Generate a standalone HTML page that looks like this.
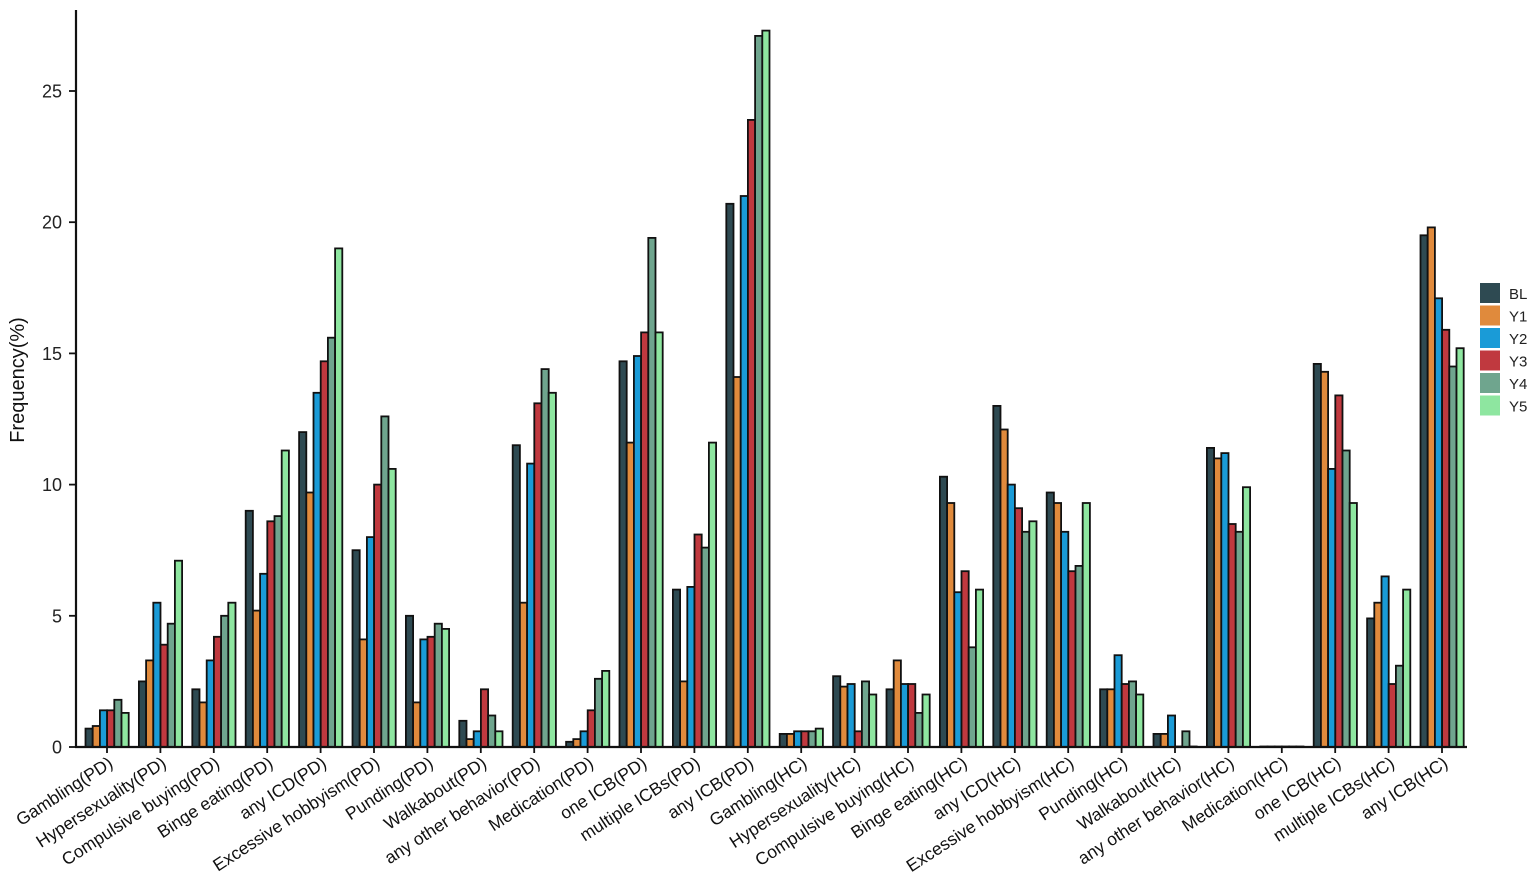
<!DOCTYPE html>
<html><head><meta charset="utf-8"><style>body{margin:0;background:#fff}svg{display:block}</style></head>
<body>
<svg id="c" width="1535" height="888" xmlns="http://www.w3.org/2000/svg" font-family="Liberation Sans, Arial, sans-serif"></svg>
<script>
const names=["Gambling(PD)","Hypersexuality(PD)","Compulsive buying(PD)","Binge eating(PD)","any ICD(PD)","Excessive hobbyism(PD)","Punding(PD)","Walkabout(PD)","any other behavior(PD)","Medication(PD)","one ICB(PD)","multiple ICBs(PD)","any ICB(PD)","Gambling(HC)","Hypersexuality(HC)","Compulsive buying(HC)","Binge eating(HC)","any ICD(HC)","Excessive hobbyism(HC)","Punding(HC)","Walkabout(HC)","any other behavior(HC)","Medication(HC)","one ICB(HC)","multiple ICBs(HC)","any ICB(HC)"];
const d=[[0.7,0.8,1.4,1.4,1.8,1.3],[2.5,3.3,5.5,3.9,4.7,7.1],[2.2,1.7,3.3,4.2,5.0,5.5],[9.0,5.2,6.6,8.6,8.8,11.3],[12.0,9.7,13.5,14.7,15.6,19.0],[7.5,4.1,8.0,10.0,12.6,10.6],[5.0,1.7,4.1,4.2,4.7,4.5],[1.0,0.3,0.6,2.2,1.2,0.6],[11.5,5.5,10.8,13.1,14.4,13.5],[0.2,0.3,0.6,1.4,2.6,2.9],[14.7,11.6,14.9,15.8,19.4,15.8],[6.0,2.5,6.1,8.1,7.6,11.6],[20.7,14.1,21.0,23.9,27.1,27.3],[0.5,0.5,0.6,0.6,0.6,0.7],[2.7,2.3,2.4,0.6,2.5,2.0],[2.2,3.3,2.4,2.4,1.3,2.0],[10.3,9.3,5.9,6.7,3.8,6.0],[13.0,12.1,10.0,9.1,8.2,8.6],[9.7,9.3,8.2,6.7,6.9,9.3],[2.2,2.2,3.5,2.4,2.5,2.0],[0.5,0.5,1.2,0,0.6,0],[11.4,11.0,11.2,8.5,8.2,9.9],[0,0,0,0,0,0],[14.6,14.3,10.6,13.4,11.3,9.3],[4.9,5.5,6.5,2.4,3.1,6.0],[19.5,19.8,17.1,15.9,14.5,15.2]];
const col=["#2e4a52","#e08a3c","#1a9bd7","#c0393f","#6fa58e","#8ee6a0"];
const y0=747,k=26.24;let s="";
for(let g=0;g<26;g++){const cx=107+g*53.4;
 for(let i=0;i<6;i++){const v=d[g][i];const h=Math.max(v*k,0.5);const x=cx-21.5+i*7.2;
  s+=`<rect x="${x.toFixed(1)}" y="${(y0-h).toFixed(1)}" width="7.2" height="${h.toFixed(1)}" fill="${col[i]}" stroke="#111" stroke-width="1.8"/>`;}
 s+=`<line x1="${cx}" y1="${y0}" x2="${cx}" y2="${y0+6}" stroke="#111" stroke-width="1.8"/>`;
 s+=`<text transform="translate(${cx+7},${y0+19}) rotate(-33)" text-anchor="end" font-size="17.5" fill="#111">${names[g]}</text>`;}
s+=`<line x1="76" y1="10" x2="76" y2="${y0}" stroke="#111" stroke-width="2.2"/><line x1="75" y1="${y0}" x2="1467" y2="${y0}" stroke="#111" stroke-width="2.2"/>`;
for(let t=0;t<=25;t+=5){const y=y0-t*k;s+=`<line x1="69" y1="${y}" x2="76" y2="${y}" stroke="#111" stroke-width="1.8"/><text x="62" y="${y+6.5}" text-anchor="end" font-size="18" fill="#222">${t}</text>`;}
s+=`<text transform="translate(24,380) rotate(-90)" text-anchor="middle" font-size="20" fill="#111">Frequency(%)</text>`;
const lab=["BL","Y1","Y2","Y3","Y4","Y5"];
for(let i=0;i<6;i++){const y=283+i*22.5;s+=`<rect x="1480" y="${y}" width="20" height="20" fill="${col[i]}"/><text x="1509" y="${y+16}" font-size="15" fill="#222">${lab[i]}</text>`;}
document.getElementById("c").innerHTML=s;
</script>
</body></html>
